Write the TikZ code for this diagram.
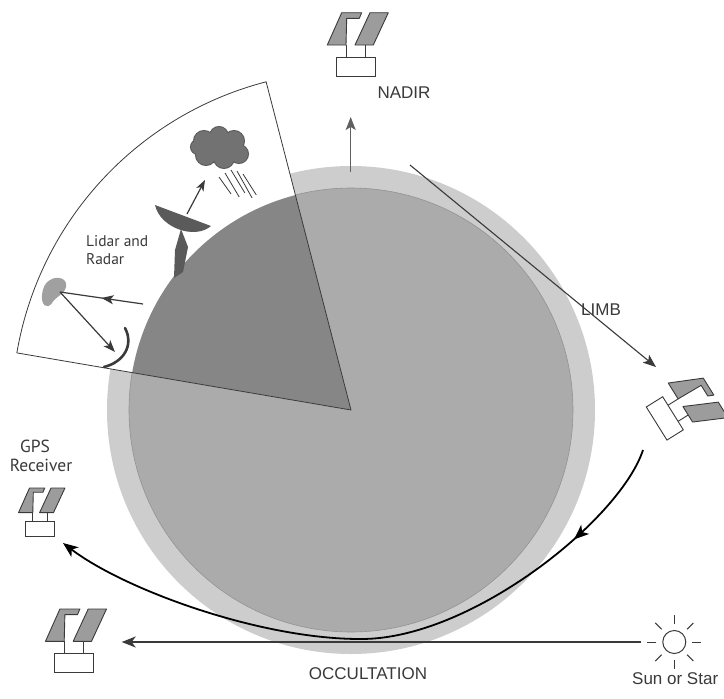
\documentclass[tikz,border=0pt]{standalone}
\usepackage{fontspec}
\setmainfont{Liberation Sans}
\newfontfamily\humfont{PT Sans}
\usetikzlibrary{arrows.meta,decorations.markings}

\definecolor{ringgray}{HTML}{CDCDCD}
\definecolor{earthgray}{HTML}{ABABAB}
\definecolor{wedgegray}{HTML}{868686}
\definecolor{panelgray}{HTML}{9C9C9C}
\definecolor{inkgray}{HTML}{3A3A3A}
\definecolor{cloudgray}{HTML}{727272}
\definecolor{blobgray}{HTML}{A0A0A0}
\definecolor{dishgray}{HTML}{5A5A5A}

\newcommand\cloudlumps{%
  (204,141) circle[radius=10] (219,136) circle[radius=9] (234,141) circle[radius=10]
  (239,154) circle[radius=9] (224,158) circle[radius=10] (206,155) circle[radius=10]
  (198,147) circle[radius=7] (222,148) circle[radius=12]}

\tikzset{
  % small satellite: two solar panels, struts and a body box (origin = top centre of box)
  sat/.pic={
    \filldraw[fill=panelgray,draw=inkgray,line width=0.9pt,line join=round]
      (-13.8,-44.3) -- (6.2,-44.3) -- (3.8,-38.7) -- (-8.8,-38.7) -- (-9.5,-12) -- (-28.2,-12) -- cycle;
    \filldraw[fill=panelgray,draw=inkgray,line width=0.9pt,line join=round]
      (14.5,-44.3) -- (32.8,-44.3) -- (17.8,-12) -- (-0.5,-12) -- cycle;
    \draw[inkgray,line width=0.9pt] (-9.5,-12) -- (-9.5,0) (9.5,-12) -- (9.5,0);
    \filldraw[fill=white,draw=inkgray,line width=0.9pt] (-19.5,0) rectangle (19.5,19.3);
  },
  captxt/.style={font=\fontsize{17}{20}\selectfont, text=inkgray, inner sep=0pt},
  humtxt/.style={font=\humfont\fontsize{17.5}{20}\selectfont, text=inkgray, inner sep=0pt},
  smalltxt/.style={font=\humfont\fontsize{15.5}{18}\selectfont, text=inkgray, inner sep=0pt},
  thinarrow/.style={draw=inkgray, line width=1.1pt, -{Stealth[length=13pt,width=10pt,inset=3pt]}},
  bigcurve/.style={draw=black, line width=1.8pt,
    postaction={decorate},
    decoration={markings, mark=at position 0.17 with {\arrow{Stealth[length=15pt,width=12pt,inset=4pt]}}},
    -{Stealth[length=15pt,width=12pt,inset=4pt]}},
  occline/.style={draw=inkgray, line width=1.4pt, -{Stealth[length=14pt,width=11pt,inset=4pt]}},
  lidline/.style={draw=inkgray, line width=1.2pt},
}

\begin{document}
\begin{tikzpicture}[x=1pt,y=-1pt]
  \useasboundingbox (0,0) rectangle (724,699);
  \fill[white] (0,0) rectangle (724,699);

  \coordinate (C) at (351,410);

  % atmosphere and earth
  \fill[ringgray] (C) circle[radius=244];
  \filldraw[fill=earthgray, draw=gray!85, line width=0.6pt] (C) circle[radius=222];

  % sector with the ground-based instruments
  \fill[white] (C) -- ++(-104.5:339) arc[start angle=-104.5, end angle=-170.3, radius=339] -- cycle;
  \fill[wedgegray] (C) -- ++(-104.5:222) arc[start angle=-104.5, end angle=-170.3, radius=222] -- cycle;
  \draw[inkgray, line width=0.8pt, line join=round]
    (C) -- ++(-104.5:339) arc[start angle=-104.5, end angle=-170.3, radius=339] -- cycle;

  % satellites
  \pic (satN) at (355.5,57) {sat};
  \pic[rotate=-58] (satR) at (673,413.3) {sat};
  \pic[scale=0.76] (satG) at (40,521.7) {sat};
  \pic (satO) at (73.7,653.3) {sat};

  % nadir view
  \coordinate (nadirA) at (350.7,172);
  \coordinate (nadirB) at (350.7,117);
  \draw[thinarrow, draw=gray!75!black] (nadirA) -- (nadirB);
  \node[captxt] (nadir) at (404,93) {NADIR};

  % limb view
  \coordinate (limbA) at (410,165);
  \coordinate (limbB) at (656,367);
  \draw[thinarrow] (limbA) -- (limbB);
  \node[captxt] (limb) at (601,310) {LIMB};

  % GPS occultation path
  \coordinate (curveA) at (643,450);
  \coordinate (curveM) at (360,639);
  \coordinate (curveB) at (63,543);
  \draw[bigcurve] (curveA) .. controls (620,520) and (470,640) .. (curveM)
                          .. controls (260,639) and (125,590) .. (curveB);
  \node[humtxt] (gps) at (35,446) {GPS};
  \node[humtxt] (recv) at (41,465) {Receiver};

  % sun / star occultation
  \coordinate (sunC) at (674.3,642);
  \draw[inkgray, line width=1pt] (sunC) circle[radius=11.5];
  \foreach \a in {0,45,...,315}
    \draw[inkgray, line width=1pt] (sunC) ++(\a:18) -- ++(\a:9);
  \coordinate (occA) at (641,642);
  \coordinate (occB) at (121.7,642);
  \draw[occline] (occA) -- (occB);
  \node[captxt] (occ) at (368,674) {OCCULTATION};
  \node[captxt, anchor=west] (sun) at (632,679) {Sun or Star};

  % radar: dish, stem, cloud and rain
  \fill[dishgray] (155,205) .. controls (160,228) and (195,240) .. (211,226) -- cycle;
  \fill[dishgray] (181,229) -- (188,247) -- (183,272) -- (174,278) -- (175,250) -- cycle;
  \coordinate (radarA) at (187,214);
  \coordinate (radarB) at (205,180);
  \draw[lidline, -{Stealth[length=11pt,width=8pt,inset=3pt]}] (radarA) -- (radarB);
  \draw[dishgray, line width=2pt] \cloudlumps;
  \fill[cloudgray] \cloudlumps;
  \foreach \dx/\ya/\yb in {0/177/194, 6/173/197, 12/170/193, 18/171/198, 24/174/195}
    \draw[inkgray, line width=0.8pt] (219+\dx,\ya) -- (226+\dx+0.3*\yb-0.3*\ya,\yb);

  % lidar: cloud layer, beams and receiving dish
  \fill[blobgray] (50,280) .. controls (58,275) and (68,279) .. (66,287)
    .. controls (64,295) and (56,296) .. (52,303) .. controls (47,310) and (41,305) .. (42,295)
    .. controls (43,287) and (45,283) .. (50,280) -- cycle;
  \coordinate (lidA) at (143,304);
  \coordinate (lidB) at (60,292);
  \coordinate (lidC) at (115,352);
  \draw[lidline, postaction={decorate},
    decoration={markings, mark=at position 0.5 with {\arrow{Stealth[length=12pt,width=9pt,inset=3pt]}}}]
    (lidA) -- (lidB);
  \draw[lidline, -{Stealth[length=12pt,width=9pt,inset=3pt]}] (lidB) -- (lidC);
  \draw[inkgray, line width=2.6pt, line cap=round]
    (125,328) .. controls (134,345) and (124,362) .. (104,367);

  \node[smalltxt, anchor=west] (lidar1) at (86,241) {Lidar and};
  \node[smalltxt, anchor=west] (lidar2) at (86,259) {Radar};
\end{tikzpicture}
\end{document}
